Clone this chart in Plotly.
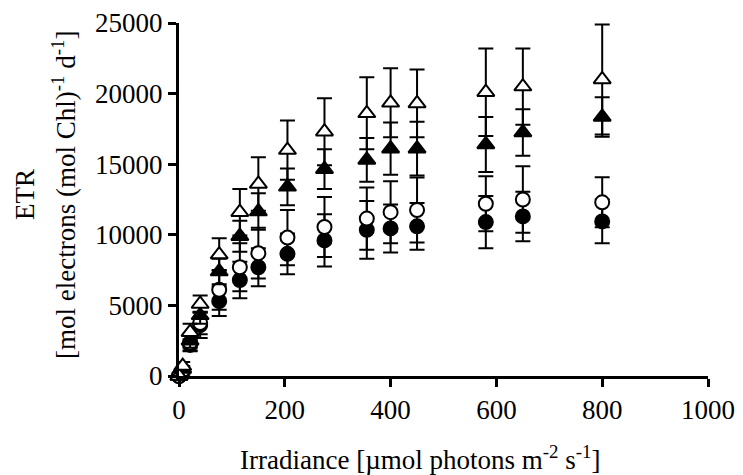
import plotly.graph_objects as go

# Irradiance (µmol photons m-2 s-1)
irradiance = [0, 7, 21, 40, 76, 115, 150, 205, 275, 355, 400, 450, 580, 650, 800]

# ETR series (mol electrons (mol Chl)-1 d-1) and their error bars
open_tri = [0, 700, 3100, 5100, 8600, 11600, 13600, 16000, 17300, 18600, 19350, 19300, 20100, 20500, 21000]
open_tri_err = [0, 300, 600, 600, 1150, 1650, 1900, 2100, 2370, 2550, 2450, 2400, 3100, 2700, 3900]

filled_tri = [0, 500, 2500, 4300, 7400, 9900, 11650, 13400, 14650, 15300, 16100, 16100, 16400, 17250, 18350]
filled_tri_err = [0, 200, 500, 600, 900, 1100, 1300, 1300, 1400, 1550, 1850, 1900, 1950, 1650, 1400]

open_circ = [0, 400, 2350, 3750, 6100, 7700, 8700, 9800, 10550, 11150, 11600, 11750, 12200, 12500, 12300]
open_circ_err = [0, 200, 600, 800, 1400, 1700, 1800, 1950, 2120, 2200, 2200, 2300, 1950, 2350, 1770]

filled_circ = [0, 300, 2200, 3600, 5300, 6800, 7700, 8650, 9600, 10350, 10450, 10600, 10900, 11300, 10950]
filled_circ_err = [0, 200, 400, 900, 1050, 1300, 1350, 1450, 1850, 2050, 1700, 1650, 1850, 1750, 1550]

x_ticks = [0, 200, 400, 600, 800, 1000]
y_ticks = [0, 5000, 10000, 15000, 20000, 25000]

FONT = "Liberation Serif"
FS = 27

series = [
    (filled_circ, filled_circ_err, "circle", "black", 14),
    (open_circ, open_circ_err, "circle", "white", 14),
    (filled_tri, filled_tri_err, "triangle-up", "black", 15),
    (open_tri, open_tri_err, "triangle-up", "white", 15),
]

fig = go.Figure()
for vals, errs, sym, fill, size in series:
    fig.add_trace(go.Scatter(
        x=irradiance, y=vals, mode="markers",
        marker=dict(symbol=sym, size=size, color=fill,
                    line=dict(color="black", width=2)),
        error_y=dict(type="data", array=errs, visible=True,
                     color="black", thickness=2, width=7.5),
        cliponaxis=False, showlegend=False,
    ))

axis_common = dict(showline=True, linecolor="black", linewidth=3,
                   ticks="outside", ticklen=8, tickwidth=2.5, tickcolor="black",
                   showgrid=False, zeroline=False, automargin=False,
                   tickfont=dict(size=FS, family=FONT, color="black"))

# page body has an 8px margin, so the figure is sized/offset to compensate
fig.update_layout(
    width=735, height=467,
    margin=dict(l=171, r=35, t=15, b=99, autoexpand=False),
    paper_bgcolor="white", plot_bgcolor="white",
    font=dict(family=FONT, color="black", size=FS),
    xaxis=dict(range=[0, 1000], tickvals=x_ticks, ticktext=[str(v) for v in x_ticks],
               **axis_common),
    yaxis=dict(range=[0, 25000], tickvals=y_ticks, ticktext=[str(v) for v in y_ticks],
               **axis_common),
    annotations=[
        dict(text="Irradiance [µmol photons m<sup>-2</sup> s<sup>-1</sup>]",
             xref="paper", yref="paper", x=0.4556, y=-0.232,
             xanchor="center", yanchor="middle", showarrow=False,
             font=dict(size=FS, family=FONT, color="black")),
        dict(text="ETR", xref="paper", yref="paper", x=-0.291, y=0.5127,
             xanchor="center", yanchor="middle", textangle=-90, showarrow=False,
             font=dict(size=FS, family=FONT, color="black")),
        dict(text="[mol electrons (mol Chl)<sup>-1</sup> d<sup>-1</sup>]",
             xref="paper", yref="paper", x=-0.2174, y=0.5127,
             xanchor="center", yanchor="middle", textangle=-90, showarrow=False,
             font=dict(size=FS, family=FONT, color="black")),
    ],
)

fig.write_html("out.html")
